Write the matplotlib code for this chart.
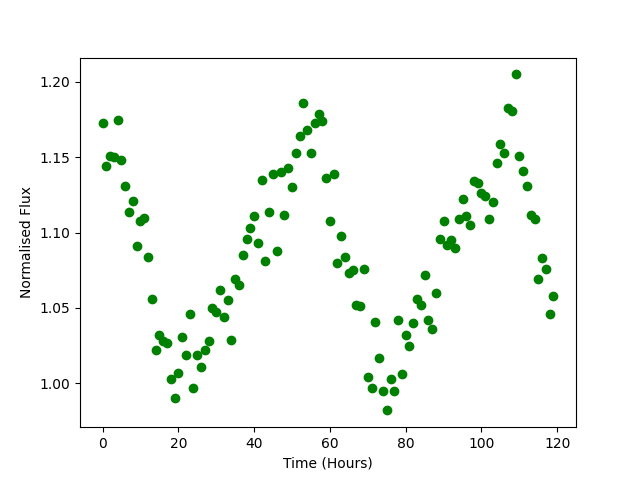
import numpy as np
import matplotlib
matplotlib.use('Agg')
import matplotlib.pyplot as plt

# Hourly normalised flux readings
time_hours = np.arange(120)
flux = [
    1.173, 1.144, 1.151, 1.150, 1.175, 1.148, 1.131, 1.114, 1.121, 1.091,
    1.108, 1.110, 1.084, 1.056, 1.022, 1.032, 1.028, 1.027, 1.003, 0.990,
    1.007, 1.031, 1.019, 1.046, 0.997, 1.019, 1.011, 1.022, 1.028, 1.050,
    1.047, 1.062, 1.044, 1.055, 1.029, 1.069, 1.065, 1.085, 1.096, 1.103,
    1.111, 1.093, 1.135, 1.081, 1.114, 1.139, 1.088, 1.140, 1.112, 1.143,
    1.130, 1.153, 1.164, 1.186, 1.168, 1.153, 1.173, 1.179, 1.174, 1.136,
    1.108, 1.139, 1.080, 1.098, 1.084, 1.073, 1.075, 1.052, 1.051, 1.076,
    1.004, 0.997, 1.041, 1.017, 0.995, 0.982, 1.003, 0.995, 1.042, 1.006,
    1.032, 1.025, 1.040, 1.056, 1.052, 1.072, 1.042, 1.036, 1.060, 1.096,
    1.108, 1.092, 1.095, 1.090, 1.109, 1.122, 1.111, 1.105, 1.134, 1.133,
    1.126, 1.124, 1.109, 1.120, 1.146, 1.159, 1.153, 1.183, 1.181, 1.205,
    1.151, 1.141, 1.131, 1.112, 1.109, 1.069, 1.083, 1.076, 1.046, 1.058,
]

fig, ax = plt.subplots(figsize=(6.4, 4.8), dpi=100)
ax.plot(time_hours, flux, 'o', color='green')
ax.set_xlabel('Time (Hours)')
ax.set_ylabel('Normalised Flux')

plt.savefig('out.png')
